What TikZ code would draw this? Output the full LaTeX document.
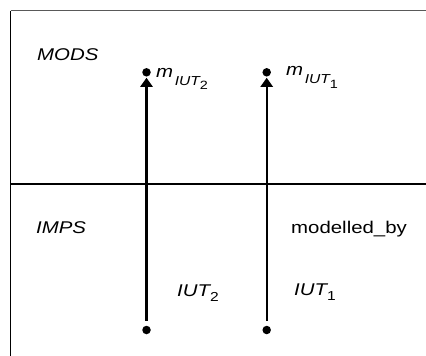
\documentclass[tikz,border=0pt]{standalone}
\usepackage{fontspec}
\setmainfont{Liberation Sans}[FakeStretch=1.2]
\usetikzlibrary{arrows.meta}
\newcommand{\fs}[1]{\fontsize{#1}{#1}\selectfont}
\newcommand{\mlab}[1]{{\fs{17}\itshape m}\,\raisebox{-8.5pt}{\fs{13}\itshape IUT\raisebox{-4.5pt}{\fs{12}\upshape #1}}}
\begin{document}
\begin{tikzpicture}[x=1pt,y=-1pt,
  lab/.style={anchor=base west,inner sep=0pt,font=\fs{17}},
  dot/.style={circle,fill=black,inner sep=0pt,minimum size=8.5pt},
  conn/.style={line width=2.2pt,-{Triangle[width=12pt,length=9pt]},shorten <=5pt,shorten >=1pt}]
\useasboundingbox (0,0) rectangle (426,356);
% frame
\coordinate (tl) at (10.5,10.5);
\coordinate (tr) at (426,10.5);
\coordinate (bl) at (10.5,356);
\coordinate (ml) at (10.5,184);
\coordinate (mr) at (426,184);
\draw[line width=1.6pt,black!65] (tl) -- (tr);
\draw[line width=1.4pt] (tl) -- (bl);
\draw[line width=2.2pt] (ml) -- (mr);
% dots
\node[dot] (t2) at (146.5,72.3) {};
\node[dot] (t1) at (266.7,72.3) {};
\node[dot] (b2) at (146.5,330) {};
\node[dot] (b1) at (266.7,330) {};
\draw[conn] (b2) -- (t2);
\draw[conn] (b1) -- (t1);
% labels
\node[lab] (mods) at (37,60) {\itshape MODS};
\node[lab] (imps) at (36,233) {\itshape IMPS};
\node[lab] (mb) at (291,233) {modelled\_by};
\node[lab] (i2) at (177,296) {\itshape IUT\raisebox{-5pt}{\fs{13}\upshape 2}};
\node[lab] (i1) at (294,295) {\itshape IUT\raisebox{-5pt}{\fs{13}\upshape 1}};
\node[anchor=base west,inner sep=0pt] (m2) at (156,77) {\mlab{2}};
\node[anchor=base west,inner sep=0pt] (m1) at (286,75) {\mlab{1}};
\end{tikzpicture}
\end{document}
